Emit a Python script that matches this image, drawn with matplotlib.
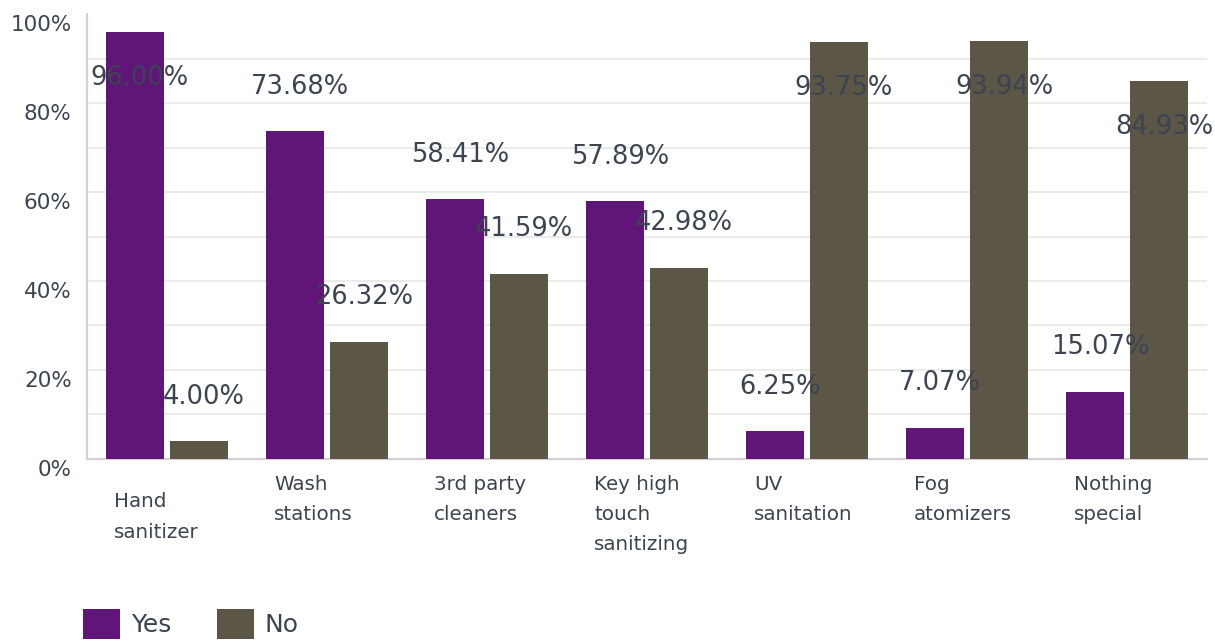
import matplotlib.pyplot as plt
import matplotlib.transforms as mtransforms
from matplotlib.patches import Patch
import numpy as np

categories = ["Hand\nsanitizer", "Wash\nstations", "3rd party\ncleaners",
              "Key high\ntouch\nsanitizing", "UV\nsanitation", "Fog\natomizers",
              "Nothing\nspecial"]
yes_vals = [96.00, 73.68, 58.41, 57.89, 6.25, 7.07, 15.07]
no_vals = [4.00, 26.32, 41.59, 42.98, 93.75, 93.94, 84.93]
series_names = ["Yes", "No"]
yticks = [0, 20, 40, 60, 80, 100]

purple = "#5f1678"
olive = "#5b5646"
text_col = "#3b4450"
grid_col = "#e9e9e9"

fig = plt.figure(figsize=(12.15, 6.41), dpi=100)
ax = fig.add_axes([0.0716, 0.284, 0.922, 0.694])

x = np.arange(len(categories))
w = 0.3625
off = 0.2
ax.bar(x - off, yes_vals, w, color=purple, zorder=3)
ax.bar(x + off, no_vals, w, color=olive, zorder=3)

# value labels: below top for tall bars, above for the rest
for xs, vals in ((x - off, yes_vals), (x + off, no_vals)):
    for xi, v in zip(xs, vals):
        y = v - 10.3 if v > 80 else v + 10
        ax.text(xi + 0.03, y, f"{v:.2f}%", ha="center", va="center",
                fontsize=18.5, color=text_col, zorder=4)

ax.set_xlim(-0.5, len(categories) - 0.5)
ax.set_ylim(0, 100)
ax.set_yticks(yticks)
ax.set_yticklabels([f"{t}%" for t in yticks], fontsize=15.5, color=text_col)
ax.set_yticks(np.arange(10, 100, 20), minor=True)
ax.tick_params(axis="y", which="both", length=0, pad=11)
ax.tick_params(axis="x", length=0)
ax.set_xticks([])
shift = mtransforms.ScaledTranslation(0, -9 / 100, fig.dpi_scale_trans)
for lab in ax.get_yticklabels():
    lab.set_transform(lab.get_transform() + shift)

ax.grid(axis="y", which="both", color=grid_col, linewidth=1.3, zorder=0)
ax.yaxis.get_gridlines()[-1].set_visible(False)
for s in ["top", "right"]:
    ax.spines[s].set_visible(False)
for s in ["left", "bottom"]:
    ax.spines[s].set_color("#d2d2d2")
    ax.spines[s].set_linewidth(1.6)

# category labels, left aligned under each group
trans = mtransforms.blended_transform_factory(ax.transData, ax.transAxes)
for i, lab in enumerate(categories):
    ytop = -0.075 if i == 0 else -0.035
    ax.text(i - off - w / 2 + 0.05, ytop, lab, transform=trans, ha="left", va="top",
            fontsize=14.3, color=text_col, linespacing=1.75)

handles = [Patch(facecolor=purple, label=series_names[0]),
           Patch(facecolor=olive, label=series_names[1])]
fig.legend(handles=handles, loc="lower left", bbox_to_anchor=(0.05, -0.032),
           ncol=2, frameon=False, fontsize=18, handlelength=1.45, handleheight=1.5,
           handletextpad=0.45, columnspacing=1.85, labelcolor=text_col)

fig.savefig("out.png", dpi=100)
